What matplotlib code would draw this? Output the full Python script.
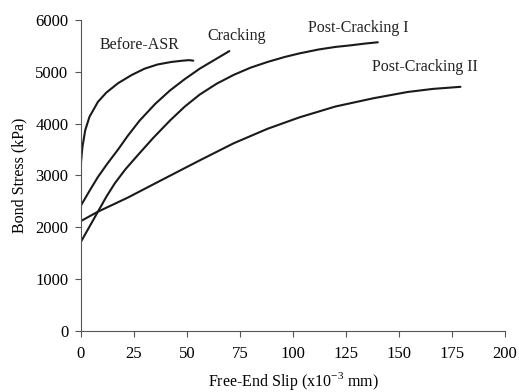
import matplotlib
matplotlib.use("Agg")
import matplotlib.pyplot as plt

plt.rcParams["font.family"] = ["Liberation Serif", "DejaVu Serif"]
plt.rcParams["mathtext.fontset"] = "custom"
plt.rcParams["mathtext.rm"] = "Liberation Serif"
plt.rcParams["axes.unicode_minus"] = False

# values
before_x = [0, 0.7, 2, 4, 8, 12, 17.5, 24, 30, 36, 42.6, 48, 51, 53]
before_y = [3250, 3550, 3870, 4130, 4420, 4600, 4780, 4940, 5060, 5140, 5190, 5215, 5225, 5215]
crack_x = [0, 4, 8, 12.5, 17.5, 22, 27.7, 35, 42, 49, 56, 63, 70]
crack_y = [2420, 2700, 2970, 3230, 3500, 3760, 4060, 4380, 4640, 4860, 5060, 5230, 5400]
post1_x = [0, 4, 8, 12, 16, 21, 27, 34, 42, 49, 56, 64, 72, 80, 88, 96, 103, 112, 120, 127, 134, 140]
post1_y = [1720, 2010, 2300, 2590, 2850, 3120, 3400, 3720, 4060, 4330, 4560, 4770, 4940, 5080, 5190, 5285, 5355, 5430, 5480, 5510, 5545, 5570]
post2_x = [0, 8, 22, 38, 56, 72, 88, 103, 120, 138, 154, 166, 179]
post2_y = [2120, 2300, 2570, 2910, 3290, 3620, 3900, 4120, 4330, 4490, 4610, 4670, 4710]

labels = ["Before-ASR", "Cracking", "Post-Cracking I", "Post-Cracking II"]
label_pos = [(27.8, 5518), (73.6, 5690), (131, 5845), (162, 5100)]

fig = plt.figure(figsize=(5.19, 3.92), dpi=100)
ax = fig.add_axes([0.156, 0.156, 0.817, 0.793])

for xs, ys in [(before_x, before_y), (crack_x, crack_y), (post1_x, post1_y), (post2_x, post2_y)]:
    ax.plot(xs, ys, color="#1a1a1a", lw=1.5, solid_capstyle="round", solid_joinstyle="round")

for lab, (lx, ly) in zip(labels, label_pos):
    ax.text(lx, ly, lab, ha="center", va="center", fontsize=11.5, color="#222222")

ax.set_xlim(0, 200)
ax.set_ylim(0, 6000)
ax.set_xticks(range(0, 201, 25))
ax.set_yticks(range(0, 6001, 1000))
ax.spines["top"].set_visible(False)
ax.spines["right"].set_visible(False)
for s in ["left", "bottom"]:
    ax.spines[s].set_color("#555555")
ax.tick_params(direction="out", length=4, color="#555555", labelsize=12, pad=5)
ax.tick_params(axis="x", pad=7)
ax.set_xlabel("Free-End Slip (x10$^{-3}$ mm)", fontsize=11.5, labelpad=6)
ax.set_ylabel("Bond Stress (kPa)", fontsize=11.5, labelpad=6)

fig.savefig("out.png", dpi=100)
